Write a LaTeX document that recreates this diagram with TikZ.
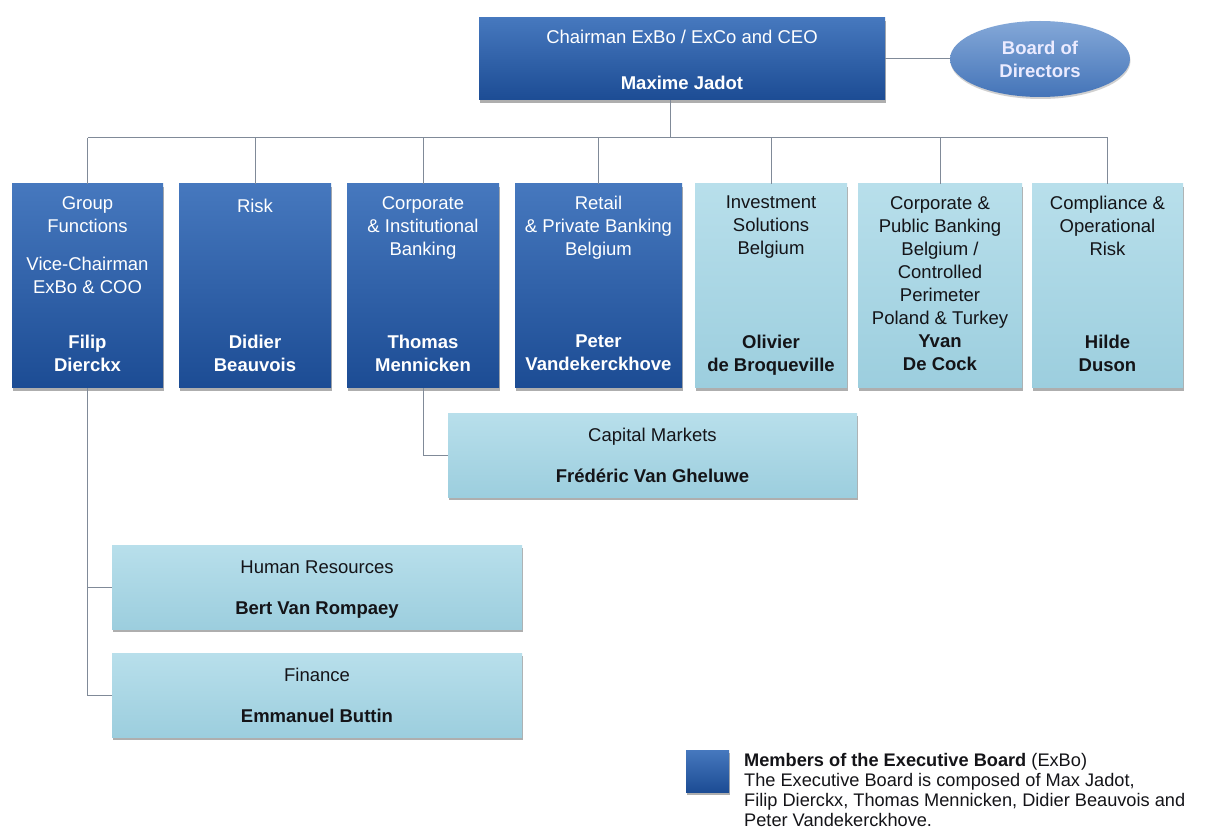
\documentclass[tikz,border=0pt]{standalone}
\usepackage{fontspec}
\setmainfont{Liberation Sans}
\usetikzlibrary{shadows,shapes.geometric}
\definecolor{dtop}{RGB}{70,120,190}
\definecolor{dbot}{RGB}{28,76,148}
\definecolor{ltop}{RGB}{184,223,235}
\definecolor{lbot}{RGB}{156,206,222}
\definecolor{conncol}{RGB}{128,138,152}
\definecolor{ltxt}{RGB}{20,20,24}
\definecolor{etop}{RGB}{132,168,216}
\definecolor{ebot}{RGB}{68,116,184}
\begin{document}
\begin{tikzpicture}[x=1pt,y=-1pt,
  box/.style={rectangle, inner sep=0pt, drop shadow={shadow xshift=0.5pt, shadow yshift=-3pt, opacity=0.45, fill=black!70}},
  dbox/.style={box, top color=dtop, bottom color=dbot},
  lbox/.style={box, top color=ltop, bottom color=lbot},
  txt/.style={inner sep=0pt, anchor=north, align=center, font=\fontsize{18.5}{23}\selectfont, execute at begin node=\strut},
  txtb/.style={txt, font=\bfseries\fontsize{18.5}{23}\selectfont},
  wt/.style={txt, text=white},
  wtb/.style={txtb, text=white},
  bt/.style={txt, text=ltxt},
  btb/.style={txtb, text=ltxt},
  link/.style={draw=conncol, line width=1pt},
]
\useasboundingbox (0,0) rectangle (1208,834);
\fill[white] (0,0) rectangle (1208,834);

% top
\node[dbox, minimum width=406pt, minimum height=82pt] (top) at (682,59) {};
\node[wt] (topt) at (682,27.4) {Chairman ExBo / ExCo and CEO};
\node[wtb] (topn) at (682,73.4) {Maxime Jadot};
\node[ellipse, minimum width=180pt, minimum height=76pt, inner sep=0pt,
  top color=etop, bottom color=ebot, drop shadow={shadow xshift=0.5pt, shadow yshift=-2pt, opacity=0.3, fill=black!60},
  text=white!92!blue, align=center, font=\bfseries\fontsize{18.5}{23}\selectfont] (bod) at (1040,59) {Board of\\Directors};

% level boxes
\node[dbox, minimum width=151pt, minimum height=204pt] (b1) at (87.5,286) {};
\node[dbox, minimum width=152pt, minimum height=204pt] (b2) at (255,286) {};
\node[dbox, minimum width=152pt, minimum height=204pt] (b3) at (423,286) {};
\node[dbox, minimum width=167pt, minimum height=204pt] (b4) at (598.5,286) {};
\node[lbox, minimum width=152pt, minimum height=204pt] (b5) at (771,286) {};
\node[lbox, minimum width=164pt, minimum height=204pt] (b6) at (940,286) {};
\node[lbox, minimum width=151pt, minimum height=204pt] (b7) at (1107.5,286) {};

\node[wt] (b1t) at (87.5,196) {Group\\Functions\\[15pt]Vice-Chairman\\ExBo \& COO};
\node[wtb] (b1n) at (87.5,334.5) {Filip\\Dierckx};
\node[wt] (b2t) at (255,196) {Risk};
\node[wtb] (b2n) at (255,334.5) {Didier\\Beauvois};
\node[wt] (b3t) at (423,196) {Corporate\\\& Institutional\\Banking};
\node[wtb] (b3n) at (423,334.5) {Thomas\\Mennicken};
\node[wt] (b4t) at (598.5,196) {Retail\\\& Private Banking\\Belgium};
\node[wtb] (b4n) at (598.5,334.5) {Peter\\Vandekerckhove};
\node[bt] (b5t) at (771,196) {Investment\\Solutions\\Belgium};
\node[btb] (b5n) at (771,334.5) {Olivier\\de Broqueville};
\node[bt] (b6t) at (940,196) {Corporate \&\\Public Banking\\Belgium /\\Controlled\\Perimeter\\Poland \& Turkey};
\node[btb] (b6n) at (940,334.5) {Yvan\\De Cock};
\node[bt] (b7t) at (1107.5,196) {Compliance \&\\Operational\\Risk};
\node[btb] (b7n) at (1107.5,334.5) {Hilde\\Duson};

% sub boxes
\node[lbox, minimum width=409pt, minimum height=84pt] (cap) at (652.5,455) {};
\node[bt] (capt) at (652.5,425.4) {Capital Markets};
\node[btb] (capn) at (652.5,466.4) {Frédéric Van Gheluwe};
\node[lbox, minimum width=410pt, minimum height=84pt] (hr) at (317,587) {};
\node[bt] (hrt) at (317,557.4) {Human Resources};
\node[btb] (hrn) at (317,598.4) {Bert Van Rompaey};
\node[lbox, minimum width=410pt, minimum height=84pt] (fin) at (317,695) {};
\node[bt] (fint) at (317,665.4) {Finance};
\node[btb] (finn) at (317,706.4) {Emmanuel Buttin};

% connectors
\coordinate (bus) at (670,138);
\draw[link] (top.south -| bus) -- (bus);
\draw[link] (b1.north |- bus) -- (b7.north |- bus);
\foreach \b in {b1,b2,b3,b4,b5,b6,b7} {\draw[link] (\b.north |- bus) -- (\b.north);}
\draw[link] (top.east) -- (bod.west);
\draw[link] (b3.south) |- (cap.west);
\draw[link] (b1.south) |- (hr.west);
\draw[link] (b1.south) |- (fin.west);

% legend
\node[dbox, minimum width=43pt, minimum height=42pt] (leg) at (707.5,771) {};
\node[anchor=north west, inner sep=0pt, align=left, text=ltxt,
  font=\fontsize{18.2}{20}\selectfont, execute at begin node=\strut] (legt) at (744,753)
  {\textbf{Members of the Executive Board} (ExBo)\\
   The Executive Board is composed of Max Jadot,\\
   Filip Dierckx, Thomas Mennicken, Didier Beauvois and\\
   Peter Vandekerckhove.};
\end{tikzpicture}
\end{document}
